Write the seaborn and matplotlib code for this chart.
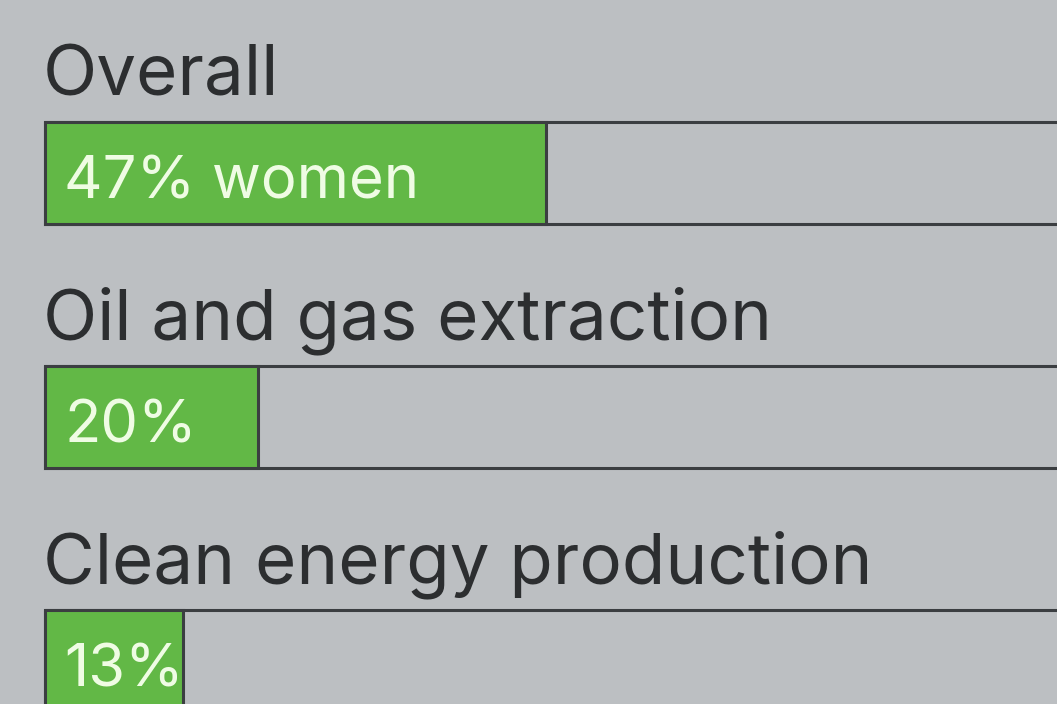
import matplotlib
matplotlib.use("Agg")
import matplotlib.pyplot as plt
import seaborn as sns

categories = ["Overall", "Oil and gas extraction", "Clean energy production"]
shares = [47, 20, 13]
bar_labels = ["47% women", "20%", "13%"]
full = [100, 100, 100]

bg = "#bcbfc2"
green = "#62b846"
edge = "#3b3e41"
label_color = "#2c2e30"
inner_color = "#effce4"

sns.set_theme(style="white")
plt.rcParams["font.family"] = ["Inter", "DejaVu Sans"]

fig = plt.figure(figsize=(10.57, 7.04), dpi=100, facecolor=bg)
ax = fig.add_axes([0, 0, 1, 1])
ax.set_facecolor(bg)

bar_h = 0.418
# empty tracks (100%)
sns.barplot(x=full, y=categories, orient="h", width=bar_h, fill=False,
            edgecolor=edge, linewidth=2.2, ax=ax)
# filled share
sns.barplot(x=shares, y=categories, orient="h", width=bar_h, color=green,
            saturation=1, edgecolor=edge, linewidth=2.2, ax=ax)

for i, (cat, lab) in enumerate(zip(categories, bar_labels)):
    ax.text(-0.2, i - bar_h / 2 - 0.11, cat, fontsize=51, color=label_color,
            va="baseline", ha="left")
    ax.text(1.8, i + 0.1025, lab, fontsize=43, color=inner_color,
            va="baseline", ha="left")

ax.set_xlim(-4.225, 95.02)
ax.set_ylim(2.176, -0.709)
ax.set_axis_off()

fig.savefig("out.png", dpi=100, facecolor=bg)
